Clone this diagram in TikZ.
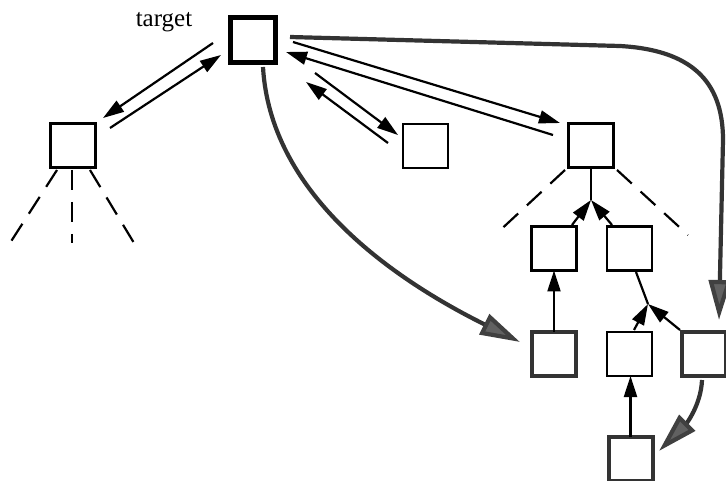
\documentclass[tikz,border=0pt]{standalone}
\usepackage{fontspec}
\setmainfont{Liberation Serif}
\usetikzlibrary{arrows.meta}
\begin{document}
\begin{tikzpicture}[x=1pt,y=-1pt,
  box/.style={draw=black, line width=2.4pt, minimum width=45pt, minimum height=44pt, inner sep=0pt, outer sep=0pt},
  tbox/.style={draw=black, line width=4.8pt, minimum width=45.5pt, minimum height=45.5pt, inner sep=0pt, outer sep=0pt},
  gbox/.style={draw=black!80, line width=4pt, minimum width=44pt, minimum height=44pt, inner sep=0pt, outer sep=0pt},
  arr/.style={line width=2.2pt, -{Triangle[length=21pt,width=13pt]}},
  plainline/.style={line width=2.2pt},
  dsh/.style={line width=2.2pt, dash pattern=on 20pt off 12pt},
  garr/.style={draw=black!80, line width=4.2pt, -{Triangle[length=40pt,width=22pt,fill=black!62,color=black!75]}},
]
\useasboundingbox (0,0) rectangle (726,481);

% boxes
\node[tbox] (T) at (253,40) {};
\node[box] (L) at (73,145.5) {};
\node[box] (M) at (425.5,146) {};
\node[box] (R) at (591,145.5) {};
\node[box] (C1) at (554,248.5) {};
\node[box] (C2) at (629.5,248.5) {};
\node[gbox] (D1) at (554,354) {};
\node[box] (D2) at (629.5,354) {};
\node[gbox] (D3) at (704,354) {};
\node[gbox] (E) at (630.5,459) {};
\node[font=\fontsize{25}{28}\selectfont, anchor=base, inner sep=0pt] (lab) at (164,27) {target};

% connector end points
\coordinate (tl1) at (213,43);
\coordinate (ll1) at (103,118);
\coordinate (ll2) at (110,128);
\coordinate (tl2) at (221,55);
\coordinate (tm1) at (315,73);
\coordinate (mm1) at (398,135);
\coordinate (mm2) at (388,143);
\coordinate (tm2) at (306,82);
\coordinate (tr1) at (293,42);
\coordinate (rr1) at (560,123);
\coordinate (rr2) at (553,135);
\coordinate (tr2) at (286,52);
\coordinate (J1) at (591,200);
\coordinate (J2) at (648,304);
\coordinate (c1t) at (572,225);
\coordinate (c2t) at (612,225);
\coordinate (c2b) at (636,272);
\coordinate (d2t) at (634,330);
\coordinate (d3t) at (680,330);
\coordinate (g1s) at (263,67);
\coordinate (g1e) at (520,342);
\coordinate (g2s) at (290,37);
\coordinate (g2e) at (719,320);
\coordinate (g3s) at (702,380);
\coordinate (g3e) at (659,451);
% dashed ends
\coordinate (la) at (57,170);
\coordinate (lae) at (10,243);
\coordinate (lb) at (72,170);
\coordinate (lbe) at (72,243);
\coordinate (lc) at (90,170);
\coordinate (lce) at (134,243);
\coordinate (ra) at (565,170);
\coordinate (rae) at (495,235);
\coordinate (rb) at (617,170);
\coordinate (rbe) at (688,235);

% gray curved arrows
\draw[garr] (g1s) .. controls (270,190) and (385,275) .. (g1e);
\draw[garr] (g2s) -- (620,46) .. controls (690,50) and (723,80) .. (723,140) -- (g2e);
\draw[garr] (g3s) .. controls (701,405) and (686,424) .. (g3e);

% paired arrows
\draw[arr] (tl1) -- (ll1);
\draw[arr] (ll2) -- (tl2);
\draw[arr] (tm1) -- (mm1);
\draw[arr] (mm2) -- (tm2);
\draw[arr] (tr1) -- (rr1);
\draw[arr] (rr2) -- (tr2);

% dashed lines
\draw[dsh] (la) -- (lae);
\draw[dsh] (lb) -- (lbe);
\draw[dsh] (lc) -- (lce);
\draw[dsh] (ra) -- (rae);
\draw[dsh] (rb) -- (rbe);

% tree
\draw[plainline] (R.south) -- (J1);
\draw[arr] (c1t) -- (J1);
\draw[arr] (c2t) -- (J1);
\draw[arr] (D1.north) -- (C1.south);
\draw[arr] (d2t) -- (J2);
\draw[arr] (d3t) -- (J2);
\draw[plainline] (J2) -- (c2b);
\draw[arr] (E.north) -- (E.north |- D2.south);
\end{tikzpicture}
\end{document}
